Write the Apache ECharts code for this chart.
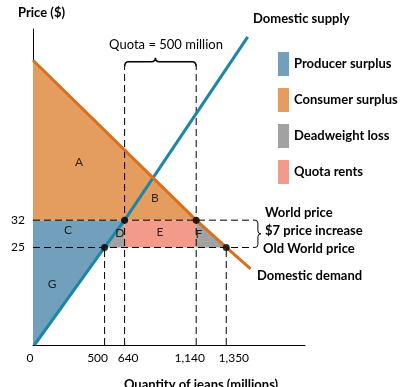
<!DOCTYPE html>
<html><head><meta charset="utf-8">
<script src="https://cdn.jsdelivr.net/npm/echarts@6/dist/echarts.min.js"></script>
<style>html,body{margin:0;padding:0;background:#fff}#c{width:405px;height:387px}</style>
</head><body><div id="c"></div>
<script>
// ---- data ----
const xTicks = [0, 500, 640, 1140, 1350];
const yTicks = [25, 32];
const supplyLine = [[10, 0], [500, 25], [640, 32], [1500, 79]];
const demandLine = [[0, 73], [1140, 32], [1350, 25], [1520, 19.5]];
const consumerSurplus = [[[0, 73], [0, 32], [1140, 32]]];
const producerSurplus = [[[0, 0], [0, 32], [640, 32], [10, 0]]];
const deadweightLoss = [[[500, 25], [640, 32], [640, 25]], [[1140, 32], [1140, 25], [1350, 25]]];
const quotaRents = [[[640, 25], [640, 32], [1140, 32], [1140, 25]]];
const keyPoints = [[500, 25], [640, 32], [1140, 32], [1350, 25]];
const dashedSegments = [
  [[0, 32], [1550, 32]], [[0, 25], [1550, 25]],
  [[500, 0], [500, 25]], [[1350, 0], [1350, 25]],
  [[640, 0], [640, 71.3]], [[1140, 0], [1140, 71.3]]
];
const regionLabels = [
  {name: 'A', pos: [321, 47]}, {name: 'B', pos: [852, 37.7]}, {name: 'C', pos: [244, 29.5]},
  {name: 'D', pos: [607, 28.7]}, {name: 'E', pos: [887, 29]}, {name: 'F', pos: [1159, 28.5]},
  {name: 'G', pos: [133, 15.6]}
];
const quotaBrace = [[640, 1140, 72.6]];
const priceBrace = [[1571, 25, 32]];

// label nudges (style only)
const xLabelStyle = {0: 'z', 500: 'a', 640: 'b', 1140: 'c', 1350: 'd'};

const FONT = 'Lato';
const chart = echarts.init(document.getElementById('c'));

function polySeries(name, polys, color) {
  return {
    name: name, type: 'custom', z: 1,
    itemStyle: {color: color},
    data: polys.map(p => p[0]),
    renderItem: function (params, api) {
      const pts = polys[params.dataIndex].map(p => api.coord(p));
      return {type: 'polygon', shape: {points: pts}, style: {fill: color}};
    }
  };
}

const series = [
  polySeries('Producer surplus', producerSurplus, '#729FBB'),
  polySeries('Consumer surplus', consumerSurplus, '#E59C5F'),
  polySeries('Deadweight loss', deadweightLoss, '#A2A2A2'),
  polySeries('Quota rents', quotaRents, '#F39B8B')
];
dashedSegments.forEach(seg => series.push({
  type: 'line', data: seg, symbol: 'none', silent: true, z: 3,
  lineStyle: {color: '#000', width: 1, type: [7, 4]}
}));
series.push({type: 'line', data: supplyLine, symbol: 'none', z: 4, lineStyle: {color: '#1C86A6', width: 3}});
series.push({type: 'line', data: demandLine, symbol: 'none', z: 4, lineStyle: {color: '#D8701F', width: 3}});
series.push({type: 'scatter', data: keyPoints, symbol: 'circle', symbolSize: 7, z: 6, itemStyle: {color: '#000'}});
series.push({
  type: 'scatter', z: 5, symbolSize: 0,
  data: regionLabels.map(r => ({name: r.name, value: r.pos})),
  label: {show: true, position: 'inside', formatter: '{b}', color: '#000', fontSize: 12, fontFamily: FONT}
});
series.push({
  type: 'custom', z: 5, data: quotaBrace,
  renderItem: function (params, api) {
    const a = api.coord([api.value(0), api.value(2)]);
    const b = api.coord([api.value(1), api.value(2)]);
    const y = a[1], x1 = a[0], x2 = b[0], xm = (x1 + x2) / 2 - 5;
    const d = `M${x1},${y + 5} Q${x1},${y} ${x1 + 4},${y} L${xm - 4},${y} Q${xm},${y} ${xm},${y - 4} Q${xm},${y} ${xm + 4},${y} L${x2 - 4},${y} Q${x2},${y} ${x2},${y + 5}`;
    return {type: 'path', shape: {pathData: d}, style: {fill: null, stroke: '#000', lineWidth: 1.6}};
  }
});
series.push({
  type: 'custom', z: 5, data: priceBrace,
  renderItem: function (params, api) {
    const a = api.coord([api.value(0), api.value(2)]);
    const b = api.coord([api.value(0), api.value(1)]);
    const x = a[0], y1 = a[1], y2 = b[1], ym = (y1 + y2) / 2;
    const d = `M${x - 3},${y1} Q${x},${y1} ${x},${y1 + 3} L${x},${ym - 3} Q${x},${ym} ${x + 3},${ym} Q${x},${ym} ${x},${ym + 3} L${x},${y2 - 3} Q${x},${y2} ${x - 3},${y2}`;
    return {type: 'path', shape: {pathData: d}, style: {fill: null, stroke: '#000', lineWidth: 1}};
  }
});

const txt = (x, y, t, bold, align) => ({
  type: 'text', x: x, y: y,
  style: {text: t, fill: '#000', font: (bold ? 'bold ' : '') + '13px ' + FONT, textAlign: align || 'left', textVerticalAlign: 'middle'}
});

const lblBase = {color: '#000', fontSize: 12, fontFamily: FONT};
chart.setOption({
  animation: false,
  grid: {left: 33, right: 100, top: 29, bottom: 42, containLabel: false, outerBoundsMode: 'none'},
  legend: {
    orient: 'vertical', left: 278, top: 52, padding: 0, icon: 'rect', itemWidth: 11, itemHeight: 24, itemGap: 12,
    data: ['Producer surplus', 'Consumer surplus', 'Deadweight loss', 'Quota rents'],
    textStyle: {color: '#000', fontSize: 13, fontWeight: 'bold', fontFamily: FONT}
  },
  xAxis: {
    type: 'value', min: 0, max: 1900,
    name: 'Quantity of jeans (millions)', nameLocation: 'middle', nameGap: 33,
    nameTextStyle: {color: '#000', fontSize: 13, fontWeight: 'bold', fontFamily: FONT, padding: [0, 0, 0, 64]},
    axisLine: {show: true, lineStyle: {color: '#000', width: 1}},
    axisTick: {show: false}, splitLine: {show: false},
    axisLabel: {
      customValues: xTicks, hideOverlap: false, showMinLabel: true, showMaxLabel: true,
      color: '#000', fontSize: 12, fontFamily: FONT, margin: 7,
      formatter: v => '{' + xLabelStyle[v] + '|' + v.toLocaleString('en-US') + '}',
      rich: {
        z: Object.assign({padding: [0, 6, 0, 0]}, lblBase),
        a: Object.assign({padding: [0, 14, 0, 0]}, lblBase),
        b: Object.assign({padding: [0, 0, 0, 7]}, lblBase),
        c: Object.assign({padding: [0, 13, 0, 0]}, lblBase),
        d: Object.assign({padding: [0, 0, 0, 15]}, lblBase)
      }
    }
  },
  yAxis: {
    type: 'value', min: 0, max: 81,
    axisLine: {show: true, lineStyle: {color: '#000', width: 1}},
    axisTick: {show: false}, splitLine: {show: false},
    axisLabel: {customValues: yTicks, hideOverlap: false, color: '#000', fontSize: 12, fontFamily: FONT, margin: 8}
  },
  graphic: [
    txt(18, 13, 'Price ($)', true),
    txt(253, 19, 'Domestic supply', true),
    txt(166, 45, 'Quota = 500 million', false, 'center'),
    txt(265, 213, 'World price', true),
    txt(265, 231, '$7 price increase', true),
    txt(263, 249, 'Old World price', true),
    txt(257, 276, 'Domestic demand', true)
  ],
  series: series
});
</script></body></html>
